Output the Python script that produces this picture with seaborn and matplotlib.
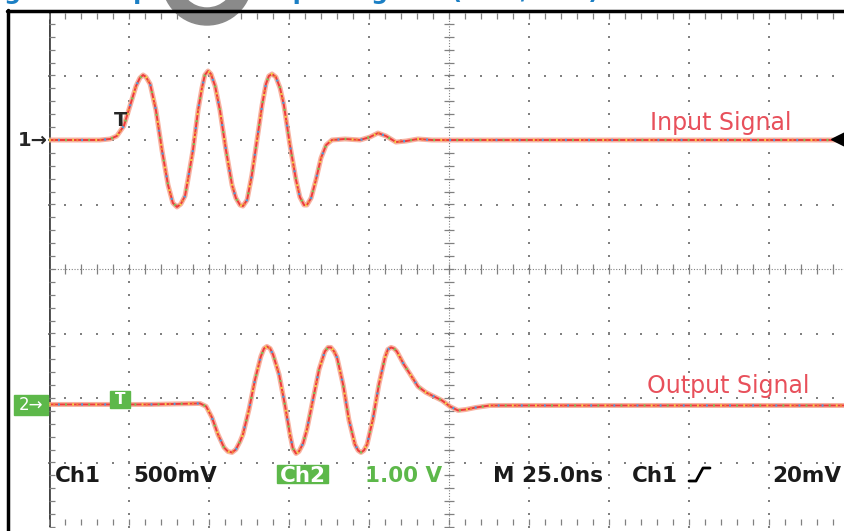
import numpy as np
import pandas as pd
import seaborn as sns
import matplotlib.pyplot as plt
from matplotlib.patches import Rectangle, Wedge

# scope settings
ns_per_div = 25.0
ch1_mv_per_div = 500.0
ch2_v_per_div = 1.0
ch1_pos = 2.0    # divisions above centre
ch2_pos = -2.1

# Ch1 (input) trace: time in ns, level in mV
t_in = [-125, -109.1, -105.9, -103.8, -101.6, -99.7, -97.8, -96.6, -95.6, -94.7,
        -93.4, -91.6, -89.7, -87.8, -86.3, -85.0, -83.8, -82.5, -81.6, -80.0,
        -78.4, -77.2, -76.3, -75.3, -74.4, -73.1, -71.6, -69.7, -67.8, -66.6,
        -65.3, -64.4, -63.1, -61.6, -60.0, -58.4, -57.2, -56.3, -55.3, -54.1,
        -52.8, -51.6, -49.7, -47.8, -46.6, -45.3, -44.4, -43.1, -41.6, -40.0,
        -38.4, -36.6, -32.5, -27.8, -24.7, -22.2, -19.7, -16.6, -13.4, -9.7,
        -5.3, 125]
v_in = [0, 0, 8, 31, 109, 264, 419, 481, 504, 488,
        434, 233, -78, -349, -488, -519, -496, -434, -310, -78,
        233, 403, 504, 535, 512, 419, 233, -78, -349, -450,
        -504, -512, -465, -271, 0, 271, 434, 496, 512, 488,
        403, 271, -39, -310, -442, -504, -504, -450, -310, -140,
        -39, 0, 8, 0, 23, 54, 31, -16, -8, 8,
        0, 0]

# Ch2 (output) trace: time in ns, level in V
t_out = [-125, -93.4, -77.8, -75.9, -74.1, -72.2, -70.3, -69.1, -67.8, -66.6,
         -65.3, -64.4, -62.5, -60.6, -58.8, -57.8, -56.9, -55.9, -55.0, -53.1,
         -51.3, -49.7, -48.8, -47.8, -46.9, -45.6, -44.4, -42.5, -40.6, -38.8,
         -37.8, -36.9, -35.9, -35.0, -33.1, -31.3, -29.4, -28.4, -27.5, -26.6,
         -25.6, -23.8, -21.9, -20.0, -19.1, -18.1, -17.2, -16.3, -14.1, -11.9,
         -9.7, -7.2, -4.7, -2.2, 0.3, 2.8, 5.3, 8.4, 12.8, 125]
v_out = [0, 0, 0.016, -0.03, -0.2, -0.465, -0.667, -0.729, -0.744, -0.698,
         -0.574, -0.465, -0.078, 0.388, 0.744, 0.868, 0.899, 0.868, 0.775, 0.465,
         0, -0.465, -0.682, -0.76, -0.729, -0.605, -0.388, 0.078, 0.543, 0.822,
         0.884, 0.884, 0.822, 0.729, 0.31, -0.233, -0.62, -0.713, -0.744, -0.713,
         -0.62, -0.233, 0.31, 0.729, 0.853, 0.884, 0.868, 0.822, 0.62, 0.45,
         0.279, 0.186, 0.124, 0.062, -0.031, -0.093, -0.078, -0.047, -0.016, -0.016]

df = pd.concat([
    pd.DataFrame({'t': t_in, 'div': np.array(v_in) / ch1_mv_per_div + ch1_pos, 'ch': 'Ch1'}),
    pd.DataFrame({'t': t_out, 'div': np.array(v_out) / ch2_v_per_div + ch2_pos, 'ch': 'Ch2'}),
])

sns.set_style('white')
plt.rcParams['font.family'] = ['DejaVu Sans']

fig = plt.figure(figsize=(8.44, 5.31), dpi=100)
W, H = 844, 531
ax = fig.add_axes([49 / W, 4 / H, 800 / W, 516 / H])
ax.set_xlim(-125, 125)
ax.set_ylim(-4, 4)
ax.axis('off')

# graticule
grey = '#808080'
ys_minor = np.arange(-4, 4.001, 0.2)
xs_minor = np.arange(-125, 125.001, 5)
for gx in np.arange(-100, 101, 25):
    if gx == 0:
        continue
    ax.plot(np.full_like(ys_minor, gx), ys_minor, 's', ms=1.6, mew=0, color=grey, clip_on=False)
for gy in range(-3, 4):
    if gy == 0:
        continue
    ax.plot(xs_minor, np.full_like(xs_minor, gy), 's', ms=1.6, mew=0, color=grey, clip_on=False)
# centre lines with ticks
ax.plot([0, 0], [-4, 4], color=grey, lw=0.8, ls=(0, (1, 1.5)))
ax.plot(np.zeros_like(ys_minor), ys_minor, '_', ms=7, mew=0.9, color=grey)
ax.plot([-125, 125], [0, 0], color=grey, lw=0.8, ls=(0, (1, 1.5)))
ax.plot(xs_minor, np.zeros_like(xs_minor), '|', ms=7, mew=0.9, color=grey)
# edges
ax.plot([-125, -125], [-4, 4], color='#444444', lw=2)
ax.plot(np.full_like(ys_minor, -124.2), ys_minor, '_', ms=4, mew=0.9, color=grey)
ax.plot(xs_minor, np.full_like(xs_minor, 3.93), '|', ms=4, mew=0.9, color=grey)
ax.plot(xs_minor, np.full_like(xs_minor, -3.93), '|', ms=4, mew=0.9, color=grey)

# traces (persistence look: pale halo, red core, coloured speckles)
sns.lineplot(data=df, x='t', y='div', hue='ch', palette={'Ch1': '#F7A591', 'Ch2': '#F7A591'},
             lw=3.6, alpha=0.85, sort=False, estimator=None, legend=False, ax=ax)
for ch, g in df.groupby('ch'):
    ax.plot(g['t'], g['div'], color='#EE3B3B', lw=1.4, zorder=4)
    for col, off in [('#F2D045', 0), ('#7CC95A', 3), ('#4FA3E0', 6), ('#F08A3C', 8)]:
        ax.plot(g['t'], g['div'], color=col, lw=1.7, ls=(off, (0.8, 9)), zorder=5)

# overlay for screen furniture and labels (pixel coordinates)
ov = fig.add_axes([0, 0, 1, 1], zorder=10)
ov.set_xlim(0, W)
ov.set_ylim(H, 0)
ov.axis('off')
ov.patch.set_alpha(0)

ov.plot([8, 8], [10, H], color='black', lw=2.5)
ov.plot([7, W], [11, 11], color='black', lw=2.5)

ov.text(-20, -1, 'Figure 6. Input and Output Signals (Ch1 / Ch2)', color='#1B7FC4',
        fontsize=17, fontweight='bold', va='baseline')
ov.add_patch(Wedge((207, -20), 45, 0, 360, width=17, color='#8a8a8a'))

green = '#5DB84A'
red = '#E8505B'
ov.text(18, 140, '1→', fontsize=14, fontweight='bold', va='center', ha='left')
ov.add_patch(Rectangle((14, 395), 34, 20, color=green))
ov.text(31, 405, '2→', fontsize=12, color='white', va='center', ha='center')
ov.text(121, 120, 'T', fontsize=14, fontweight='bold', va='center', ha='center')
ov.add_patch(Rectangle((110, 391), 20, 17, color=green))
ov.text(120, 400, 'T', fontsize=11, fontweight='bold', color='white', va='center', ha='center')
ov.plot(838, 139, marker='<', ms=10, color='black')

ov.text(650, 130, 'Input Signal', color=red, fontsize=17, va='baseline')
ov.text(647, 393, 'Output Signal', color=red, fontsize=17, va='baseline')

base = 482
ink = '#1a1a1a'
ov.text(55, base, 'Ch1', fontsize=15.5, fontweight='bold', color=ink, va='baseline')
ov.text(133, base, '500mV', fontsize=15.5, fontweight='bold', color=ink, va='baseline')
ov.add_patch(Rectangle((277, 465), 51, 18, color=green))
ov.text(302.5, base, 'Ch2', fontsize=15.5, fontweight='bold', color='white', va='baseline', ha='center')
ov.text(365, base, '1.00 V', fontsize=15.5, fontweight='bold', color=green, va='baseline')
ov.text(493, base, 'M 25.0ns', fontsize=15.5, fontweight='bold', color=ink, va='baseline')
ov.text(632, base, 'Ch1', fontsize=15.5, fontweight='bold', color=ink, va='baseline')
ov.plot([689, 696, 703, 710], [481, 481, 468, 468], color='black', lw=2)
ov.text(772, base, '20mV', fontsize=15.5, fontweight='bold', color=ink, va='baseline')

fig.savefig('out.png', dpi=100)
